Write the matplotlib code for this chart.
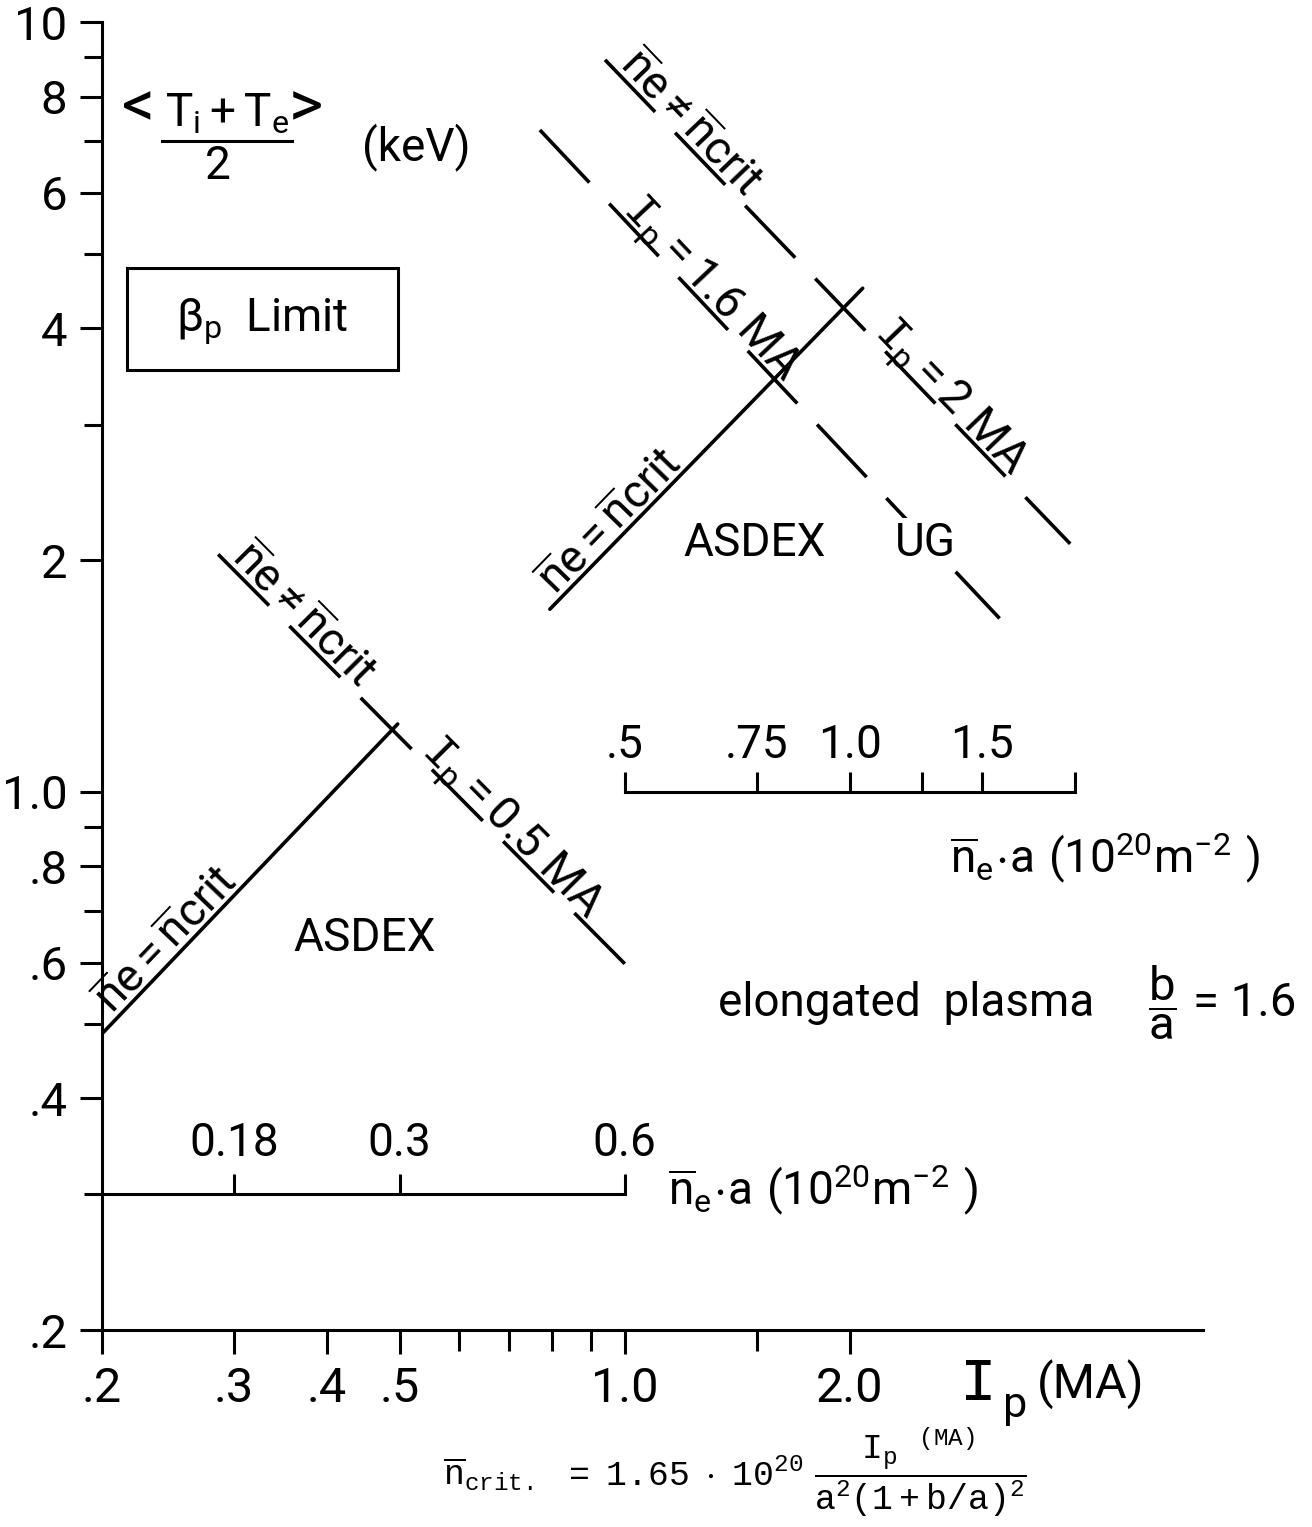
"""Beta_p limit chart: ASDEX vs ASDEX UG operating lines on log-log axes."""

import matplotlib

matplotlib.use("Agg")
import matplotlib.pyplot as plt
import matplotlib.transforms as mtransforms
import numpy as np
from matplotlib.patches import Rectangle
from matplotlib.lines import Line2D

plt.rcParams["font.family"] = ["Roboto", "DejaVu Sans"]
plt.rcParams["mathtext.fontset"] = "custom"
plt.rcParams["mathtext.rm"] = "Roboto"
plt.rcParams["mathtext.it"] = "Roboto"
plt.rcParams["mathtext.sf"] = "Roboto"
plt.rcParams["mathtext.tt"] = "Liberation Mono"
plt.rcParams["mathtext.default"] = "regular"
plt.rcParams["mathtext.fallback"] = "stixsans"

W, H = 1312, 1527

# axes ticks
x_major = [0.2, 0.3, 0.4, 0.5, 1.0, 2.0]
x_major_labels = [".2", ".3", ".4", ".5", "1.0", "2.0"]
x_minor = [0.6, 0.7, 0.8, 0.9, 1.5]
y_major = [0.2, 0.4, 0.6, 0.8, 1.0, 2, 4, 6, 8, 10]
y_major_labels = [".2", ".4", ".6", ".8", "1.0", "2", "4", "6", "8", "10"]
y_minor = [0.3, 0.5, 0.7, 0.9, 3, 5, 7, 9]

# ASDEX lines (Ip in MA, T in keV)
asdex_crit_ip = [0.20, 0.497]
asdex_crit_t = [0.485, 1.225]
asdex_05_ip = [0.286, 1.0]
asdex_05_t = [2.035, 0.598]

# ASDEX UG lines
ug_crit_ip = [0.794, 2.08]
ug_crit_t = [1.727, 4.51]
ug_16_ip = [0.770, 3.17]
ug_16_t = [7.24, 1.68]
ug_2_ip = [0.941, 3.94]
ug_2_t = [8.93, 2.10]

# ne*a scales drawn inside the plot
asdex_nea_labels = ["0.18", "0.3", "0.6"]
asdex_nea_ip = [0.3, 0.5, 1.0]
asdex_scale_ip = [0.2, 1.0]
asdex_scale_t = 0.3
ug_nea_labels = [".5", ".75", "1.0", "", "1.5", ""]
ug_nea_ip = [1.0, 1.5, 2.0, 2.5, 3.0, 4.0]
ug_scale_ip = [1.0, 4.0]
ug_scale_t = 1.0

LW = 2.2
DASH = (0, (20, 8))
FS = 33


def fxy(px, py):
    """Pixel position (from top-left) to figure fraction."""
    return px / W, 1 - py / H


fig = plt.figure(figsize=(W / 100, H / 100), dpi=100)
ax = fig.add_axes([102 / W, 1 - 1330 / H, (1203 - 102) / W, (1330 - 22) / H])
ax.set_xscale("log")
ax.set_yscale("log")
ax.set_xlim(0.2, 5.93)
ax.set_ylim(0.2, 10)

for s in ("top", "right"):
    ax.spines[s].set_visible(False)
for s in ("left", "bottom"):
    ax.spines[s].set_linewidth(LW)

ax.set_xticks(x_major, x_major_labels)
ax.set_xticks(x_minor, [""] * len(x_minor), minor=True)
ax.set_yticks(y_major, y_major_labels)
ax.set_yticks(y_minor, [""] * len(y_minor), minor=True)
ax.tick_params(axis="both", which="both", direction="out", width=LW)
ax.tick_params(axis="x", which="major", length=17, pad=9, labelsize=FS + 2)
ax.tick_params(axis="x", which="minor", length=15)
ax.tick_params(axis="y", which="major", length=16, pad=9, labelsize=FS + 1)
ax.tick_params(axis="y", which="minor", length=13)

# lines
ax.plot(asdex_crit_ip, asdex_crit_t, color="black", lw=LW + 0.4, solid_capstyle="round")
ax.plot(asdex_05_ip, asdex_05_t, color="black", lw=LW + 0.4, linestyle=DASH)
ax.plot(ug_crit_ip, ug_crit_t, color="black", lw=LW + 0.4, solid_capstyle="round")
ax.plot(ug_16_ip, ug_16_t, color="black", lw=LW + 0.4, linestyle=DASH)
ax.plot(ug_2_ip, ug_2_t, color="black", lw=LW + 0.4, linestyle=DASH)

# ne*a scales
tick_up = 10 ** (20 / 771)
ax.plot(asdex_scale_ip, [asdex_scale_t] * 2, color="black", lw=LW)
ax.vlines(asdex_nea_ip, asdex_scale_t, asdex_scale_t * tick_up, color="black", lw=LW)
for ip, lab in zip(asdex_nea_ip, asdex_nea_labels):
    ax.text(ip, asdex_scale_t * tick_up ** 1.45, lab, ha="center", va="bottom", fontsize=FS)
ax.plot(ug_scale_ip, [ug_scale_t] * 2, color="black", lw=LW)
ax.vlines(ug_nea_ip, ug_scale_t, ug_scale_t * tick_up, color="black", lw=LW)
for ip, lab in zip(ug_nea_ip, ug_nea_labels):
    ax.text(ip, ug_scale_t * tick_up ** 1.25, lab, ha="center", va="bottom", fontsize=FS)

nea_label = r"$\overline{n}_e\!\cdot\! a\ (10^{20}m^{-2}\ )$"
fig.text(*fxy(668, 1190), nea_label, ha="left", va="center", fontsize=FS)
fig.text(*fxy(950, 858), nea_label, ha="left", va="center", fontsize=FS)


def along(ip, t, frac, text, off=4):
    """Write text on a log-log segment, baseline on the line."""
    lx, ly = np.log10(ip), np.log10(t)
    x = 10 ** (lx[0] + frac * (lx[1] - lx[0]))
    y = 10 ** (ly[0] + frac * (ly[1] - ly[0]))
    p0, p1 = ax.transData.transform([(ip[0], t[0]), (ip[1], t[1])])
    ang = np.arctan2(p1[1] - p0[1], p1[0] - p0[0])
    tr = mtransforms.offset_copy(ax.transData, fig=fig, x=-np.sin(ang) * off,
                                 y=np.cos(ang) * off, units="dots")
    ax.text(x, y, text, transform=tr, rotation=np.degrees(ang), rotation_mode="anchor",
            ha="left", va="baseline", fontsize=FS)


neq = r"$\overline{n}e \neq \overline{n}crit$"
eq = r"$\overline{n}e = \overline{n}crit$"
along(asdex_05_ip, asdex_05_t, 0.02, neq)
along(asdex_05_ip, asdex_05_t, 0.49, r"$\mathtt{I}_p = 0.5\ MA$")
along(asdex_crit_ip, asdex_crit_t, 0.05, eq)
along(ug_2_ip, ug_2_t, 0.02, neq)
along(ug_16_ip, ug_16_t, 0.17, r"$\mathtt{I}_p = 1.6\ MA$")
along(ug_2_ip, ug_2_t, 0.57, r"$\mathtt{I}_p = 2\ MA$")
along(ug_crit_ip, ug_crit_t, 0.03, eq)

fig.text(*fxy(365, 938), "ASDEX", ha="center", va="center", fontsize=FS)
fig.text(*fxy(683, 543), "ASDEX", ha="left", va="center", fontsize=FS)
fig.text(*fxy(895, 543), "UG", ha="left", va="center", fontsize=FS, zorder=5,
         bbox=dict(facecolor="white", edgecolor="none", pad=2))
fig.text(*fxy(718, 1003), "elongated  plasma", ha="left", va="center", fontsize=FS)
fig.text(*fxy(1162, 1003), r"$\dfrac{b}{a}$", ha="center", va="center", fontsize=FS + 1)
fig.text(*fxy(1193, 1003), "= 1.6", ha="left", va="center", fontsize=FS + 1)

# y quantity
fig.text(*fxy(138, 108), "<", ha="center", va="center", fontsize=FS + 14)
fig.text(*fxy(227, 114), r"$T_i + T_e$", ha="center", va="center", fontsize=FS)
fig.add_artist(Line2D([162 / W, 292 / W], [1 - 141 / H] * 2, color="black", lw=LW))
fig.text(*fxy(218, 166), "2", ha="center", va="center", fontsize=FS)
fig.text(*fxy(306, 108), ">", ha="center", va="center", fontsize=FS + 14)
fig.text(*fxy(362, 147), "(keV)", ha="left", va="center", fontsize=FS)

fig.add_artist(Rectangle(fxy(127, 370), 271 / W, 102 / H, fill=False, lw=LW,
                         edgecolor="black", transform=fig.transFigure))
fig.text(*fxy(262, 322), r"β$_p$  Limit", ha="center", va="center", fontsize=FS)

# x quantity and the critical density formula
fig.text(*fxy(960, 1384), "I", ha="left", va="center", fontsize=44,
         family="Liberation Mono")
fig.text(*fxy(1003, 1405), "p", ha="left", va="center", fontsize=FS - 2)
fig.text(*fxy(1037, 1384), "(MA)", ha="left", va="center", fontsize=FS + 2)
formula = (r"$\mathtt{\overline{n}_{crit.}\ \ =\ 1.65\ \cdot\ 10^{20}}\ "
           r"\dfrac{\mathtt{I_p\ \ {}^{(MA)}}}{\mathtt{a^2(1+b/a)^2}}$")
fig.text(*fxy(735, 1472), formula, ha="center", va="center", fontsize=25,
         family="Liberation Mono")

fig.savefig("out.png", dpi=100)
